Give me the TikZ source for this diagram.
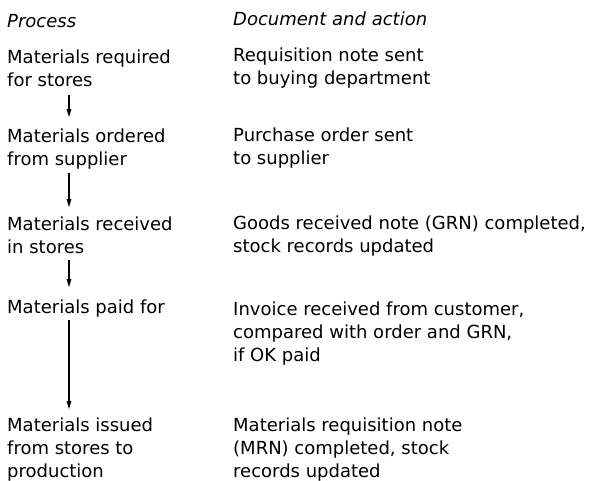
\documentclass[tikz,border=0pt]{standalone}
\usepackage{fontspec}
\setmainfont{DejaVu Sans}
\usetikzlibrary{arrows.meta}

\begin{document}
\begin{tikzpicture}[x=1pt,y=-1pt,
  txt/.style={anchor=base west,inner sep=0pt,align=left,text depth=0pt,
    font=\fontsize{18}{23}\selectfont},
  hdr/.style={txt,font=\fontsize{18}{23}\selectfont\itshape},
  flow/.style={line width=1.2pt,-{Triangle[length=8pt,width=4.5pt]}}]
\useasboundingbox (0,0) rectangle (592,481);

% column heads
\node[hdr] (hp) at (7,28)  {Process};
\node[hdr] (hd) at (233,26) {Document and action};

% process steps (placed at the baseline of their last line)
\node[txt] (p1) at (7,87)  {Materials required\\for stores};
\node[txt] (p2) at (7,166) {Materials ordered\\from supplier};
\node[txt] (p3) at (7,254) {Materials received\\in stores};
\node[txt] (p4) at (7,313) {Materials paid for};
\node[txt] (p5) at (7,477) {Materials issued\\from stores to\\production};

% documents and actions
\node[txt] (d1) at (233,85)  {Requisition note sent\\to buying department};
\node[txt] (d2) at (233,165) {Purchase order sent\\to supplier};
\node[txt] (d3) at (233,253) {Goods received note (GRN) completed,\\stock records updated};
\node[txt] (d4) at (233,361) {Invoice received from customer,\\compared with order and GRN,\\if OK paid};
\node[txt] (d5) at (233,477) {Materials requisition note\\(MRN) completed, stock\\records updated};

% flow arrows
\draw[flow] ([xshift=62pt,yshift=-8pt]p1.south west) -- ([xshift=62pt,yshift=12pt]p2.north west);
\draw[flow] ([xshift=62pt,yshift=-7pt]p2.south west) -- ([xshift=62pt,yshift=10pt]p3.north west);
\draw[flow] ([xshift=62pt,yshift=-6pt]p3.south west) -- ([xshift=62pt,yshift=12pt]p4.north west);
\draw[flow] ([xshift=62pt,yshift=-7pt]p4.south west) -- ([xshift=62pt,yshift=8pt]p5.north west);
\end{tikzpicture}
\end{document}
